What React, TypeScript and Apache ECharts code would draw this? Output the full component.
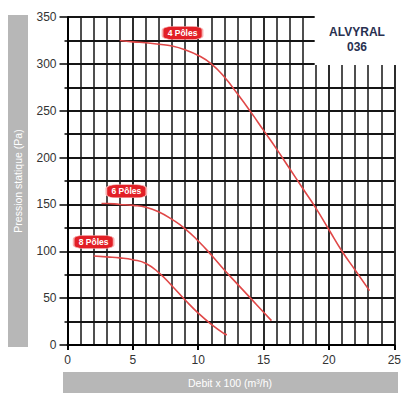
import React, { useEffect, useRef } from 'react';
import * as echarts from 'echarts';

const poles4: number[][] = [[4, 325], [5, 323.5], [6, 322.5], [7, 321], [8, 319], [9, 315], [10, 309], [11, 300], [12, 286], [13, 268], [14, 249], [15, 229], [16, 209], [17, 188], [18, 167], [19, 146], [20, 123], [21, 100], [22, 80], [23.1, 58]];
const poles6: number[][] = [[2.6, 151], [3, 151], [4, 150], [5, 149], [6, 147], [7, 142], [8, 134], [9, 124], [10, 111], [11, 96], [12, 80], [13, 65], [14, 50], [15, 35], [15.6, 26]];
const poles8: number[][] = [[2, 95], [3, 94], [4, 93], [5, 91], [6, 87], [7, 77], [8, 63], [9, 48], [10, 34], [11, 22], [12, 12], [12.2, 11]];
const seriesNames = ['4 Pôles', '6 Pôles', '8 Pôles'];
const badgePos: number[][] = [[8.8, 333], [4.5, 164], [2.0, 110]];
const seriesData = [poles4, poles6, poles8];
const modelName = ['ALVYRAL', '036'];
const yTitle = 'Pression statique (Pa)';
const xTitle = 'Debit x 100 (m³/h)';

const FONT = '"Liberation Sans", Arial, sans-serif';
const GRID = '#151515';

export default function App() {
  const ref = useRef<HTMLDivElement>(null);
  useEffect(() => {
    if (!ref.current) return;
    const chart = echarts.init(ref.current, undefined, { renderer: 'svg' });
    const option: any = {
      animation: false,
      backgroundColor: '#fff',
      grid: { left: 67.5, top: 17, width: 328, height: 328, containLabel: false },
      xAxis: {
        type: 'value', min: 0, max: 25, interval: 5,
        axisLine: { show: true, lineStyle: { color: '#000', width: 2 } },
        axisTick: { show: true, length: 5, lineStyle: { color: '#000', width: 2 } },
        minorTick: { show: false, splitNumber: 5 },
        splitLine: { show: true, lineStyle: { color: GRID, width: 1.8 } },
        minorSplitLine: { show: true, lineStyle: { color: GRID, width: 1.5 } },
        axisLabel: { fontSize: 12, color: '#333', margin: 9, fontFamily: FONT },
      },
      yAxis: {
        type: 'value', min: 0, max: 350, interval: 50,
        axisLine: { show: true, lineStyle: { color: '#000', width: 2 } },
        axisTick: { show: true, length: 8, lineStyle: { color: '#000', width: 1.5 } },
        minorTick: { show: true, splitNumber: 2, length: 3, lineStyle: { color: '#000', width: 1.5 } },
        splitLine: { show: true, lineStyle: { color: GRID, width: 2 } },
        minorSplitLine: { show: true, lineStyle: { color: GRID, width: 2 } },
        axisLabel: { fontSize: 12, color: '#333', margin: 11, fontFamily: FONT },
      },
      series: seriesData.map((d, i) => ({
        type: 'line',
        name: seriesNames[i],
        data: d,
        smooth: 0.5,
        showSymbol: false,
        z: 5,
        lineStyle: { color: '#e04848', width: 1.6 },
        markPoint: {
          z: 6,
          data: [{
            coord: badgePos[i],
            symbol: 'roundRect',
            symbolSize: [40, 13],
            itemStyle: { color: '#e21f26', borderColor: '#f6b0b0', borderWidth: 1 },
            label: { show: true, position: 'inside', formatter: seriesNames[i], color: '#fff', fontSize: 8.5, fontWeight: 'bold', fontFamily: FONT },
          }],
        },
      })),
    };
    chart.setOption(option);
    const x19 = chart.convertToPixel({ gridIndex: 0 }, [19, 300]) as number[];
    chart.setOption({
      graphic: [
        { type: 'rect', z: 10, shape: { x: x19[0] - 1.2, y: 0, width: 404 - x19[0] + 1.2, height: x19[1] + 1.2 }, style: { fill: '#fff' } },
        { type: 'text', z: 11, x: 357, y: 32, style: { text: modelName[0], fill: '#283050', fontSize: 12, fontWeight: 'bold', align: 'center', verticalAlign: 'middle', fontFamily: FONT } },
        { type: 'text', z: 11, x: 357, y: 47, style: { text: modelName[1], fill: '#283050', fontSize: 12, fontWeight: 'bold', align: 'center', verticalAlign: 'middle', fontFamily: FONT } },
        { type: 'rect', z: 10, shape: { x: 8, y: 15, width: 20, height: 332 }, style: { fill: '#b7b7b7' } },
        { type: 'text', z: 11, x: 18, y: 181, rotation: Math.PI / 2, style: { text: yTitle, fill: '#fff', fontSize: 10.5, align: 'center', verticalAlign: 'middle', fontFamily: FONT } },
        { type: 'rect', z: 10, shape: { x: 63, y: 372, width: 335, height: 21 }, style: { fill: '#b7b7b7' } },
        { type: 'text', z: 11, x: 230, y: 383, style: { text: xTitle, fill: '#fff', fontSize: 10.5, align: 'center', verticalAlign: 'middle', fontFamily: FONT } },
      ],
    });
    return () => chart.dispose();
  }, []);
  return <div ref={ref} style={{ position: 'fixed', left: 0, top: 0, width: 404, height: 393 }} />;
}
